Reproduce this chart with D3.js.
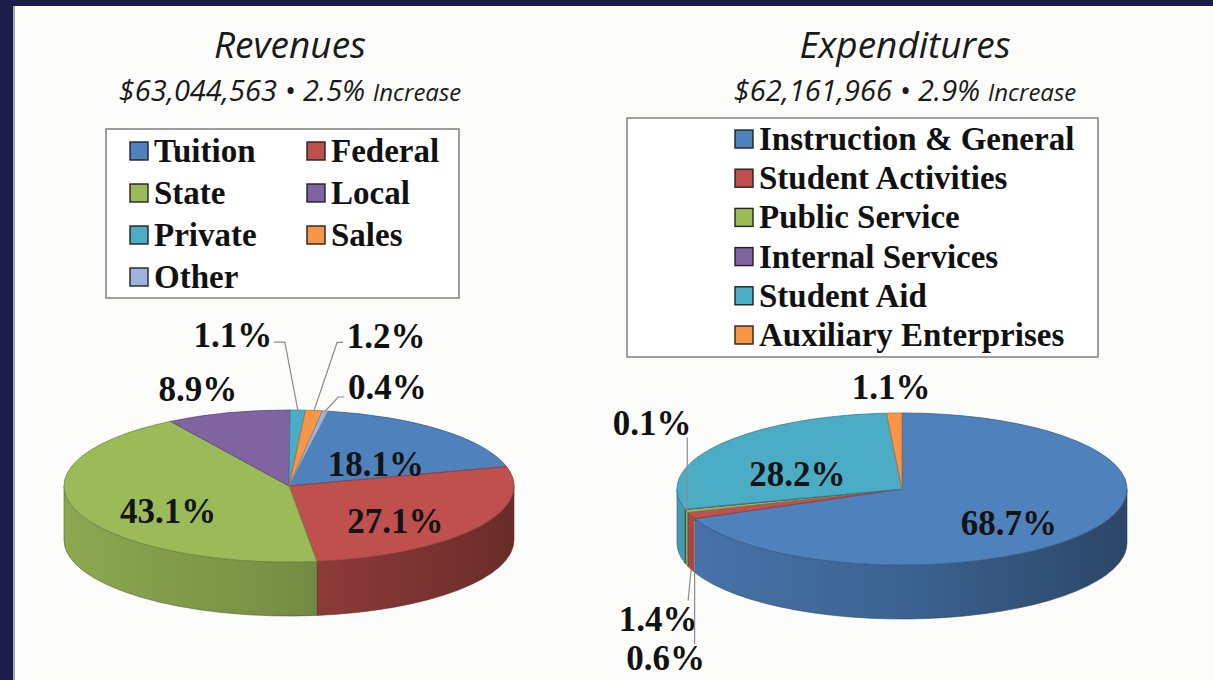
<!DOCTYPE html>
<html>
<head>
<meta charset="utf-8">
<script src="https://cdn.jsdelivr.net/npm/d3@7"></script>
<style>
  body { margin: 0; background: #fcfcfa; }
  svg { display: block; }
</style>
</head>
<body>
<div id="chart"></div>
<script>
// revenues
const revCategories = ['Tuition', 'Federal', 'State', 'Local', 'Private', 'Sales', 'Other']
const revValues = [18.1, 27.1, 43.1, 8.9, 1.1, 1.2, 0.4]
const revColors = ['#4f81bd', '#c0504d', '#9bbb59', '#8064a2', '#4bacc6', '#f79646', '#9db3dc']
const revTotal = '$63,044,563'
const revChange = '2.5%'

// expenditures
const expCategories = ['Instruction & General', 'Student Activities', 'Public Service',
  'Internal Services', 'Student Aid', 'Auxiliary Enterprises']
const expValues = [68.7, 1.4, 0.6, 0.1, 28.2, 1.1]
const expColors = ['#4f81bd', '#c0504d', '#9bbb59', '#8064a2', '#4bacc6', '#f79646']
const expTotal = '$62,161,966'
const expChange = '2.9%'

const width = 1213, height = 680
const serif = '"Times New Roman", "Liberation Serif", serif'
const sans = '"Open Sans", "Noto Sans", sans-serif'

let svg = d3.select('#chart')
  .append('svg')
  .attr('width', width)
  .attr('height', height)

let defs = svg.append('defs')

svg.append('rect').attr('width', width).attr('height', height).attr('fill', '#fcfcfa')
// dark frame top / left
svg.append('rect').attr('width', width).attr('height', 6).attr('fill', '#1c1d48')
svg.append('rect').attr('width', 13).attr('height', height).attr('fill', '#1c1d48')
svg.append('rect').attr('x', 13).attr('y', 6).attr('width', 2).attr('height', height).attr('fill', '#a3a5b8')

function header(cx, title, total, change) {
  svg.append('text')
    .attr('x', cx).attr('y', 58)
    .attr('text-anchor', 'middle')
    .style('font-family', sans).style('font-style', 'italic')
    .style('font-size', '37px').attr('fill', '#1a1a1a')
    .text(title)

  let t = svg.append('text')
    .attr('x', cx).attr('y', 101)
    .attr('text-anchor', 'middle')
    .style('font-family', sans).style('font-style', 'italic')
    .attr('fill', '#1a1a1a')
  t.append('tspan').style('font-size', '29px').text(total + ' \u2022 ' + change + ' ')
  t.append('tspan').style('font-size', '24px').text('Increase')
}

function legend(box, items, colors, cols, colW, rowH) {
  let g = svg.append('g')
  g.append('rect')
    .attr('x', box.x).attr('y', box.y)
    .attr('width', box.w).attr('height', box.h)
    .attr('fill', '#fff').attr('stroke', '#7f7f7f').attr('stroke-width', 1.5)

  let it = g.selectAll('.item')
    .data(items)
    .enter()
    .append('g')
    .attr('transform', (d, i) => `translate(${box.ix + (i % cols) * colW},${box.iy + Math.floor(i / cols) * rowH})`)

  it.append('rect')
    .attr('x', 0).attr('y', -9).attr('width', 18).attr('height', 18)
    .attr('fill', (d, i) => colors[i])
    .attr('stroke', '#222').attr('stroke-width', 1.4)

  it.append('text')
    .attr('x', 24).attr('y', 11)
    .style('font-family', serif).style('font-weight', 'bold').style('font-size', '33px')
    .attr('fill', '#111')
    .text(d => d)
}

function drawPie(o) {
  let data = o.categories.map((c, i) => ({ name: c, value: o.values[i], color: o.colors[i] }))
  let pie = d3.pie().sort(null).value(d => d.value)
    .startAngle(o.start).endAngle(o.start + 2 * Math.PI)
  let arcs = pie(data)

  let pt = (a, r = 1) => [o.cx + o.rx * r * Math.sin(a), o.cy - o.ry * r * Math.cos(a)]

  let g = svg.append('g')

  // side walls (front half only)
  let sides = []
  arcs.forEach((a, i) => {
    let grad = defs.append('linearGradient')
      .attr('id', `${o.id}-side-${i}`)
      .attr('gradientUnits', 'userSpaceOnUse')
      .attr('x1', o.cx - o.rx).attr('x2', o.cx + o.rx).attr('y1', 0).attr('y2', 0)
    let c = d3.color(a.data.color)
    grad.append('stop').attr('offset', 0).attr('stop-color', c.darker(0.3))
    grad.append('stop').attr('offset', 0.5).attr('stop-color', c.darker(0.75))
    grad.append('stop').attr('offset', 1).attr('stop-color', c.darker(1.7))
    ;[0, 2 * Math.PI].forEach(k => {
      let b1 = Math.max(a.startAngle, Math.PI / 2 + k)
      let b2 = Math.min(a.endAngle, 3 * Math.PI / 2 + k)
      if (b2 > b1) sides.push({ b1, b2, i, color: a.data.color })
    })
  })

  g.selectAll('.side')
    .data(sides)
    .enter()
    .append('path')
    .attr('class', 'side')
    .attr('d', s => {
      let p1 = pt(s.b1), p2 = pt(s.b2)
      return `M${p1} A${o.rx},${o.ry} 0 0 1 ${p2} L${p2[0]},${p2[1] + o.depth} ` +
        `A${o.rx},${o.ry} 0 0 0 ${p1[0]},${p1[1] + o.depth} Z`
    })
    .attr('fill', s => `url(#${o.id}-side-${s.i})`)
    .attr('stroke', s => d3.color(s.color).darker(1.8))
    .attr('stroke-width', 0.6)

  // top faces
  let arc = d3.arc().innerRadius(0).outerRadius(o.rx)
  g.append('g')
    .attr('transform', `translate(${o.cx},${o.cy}) scale(1,${o.ry / o.rx})`)
    .selectAll('path')
    .data(arcs)
    .enter()
    .append('path')
    .attr('d', arc)
    .attr('fill', d => d.data.color)
    .attr('stroke', d => d3.color(d.data.color).darker(0.9))
    .attr('stroke-width', 0.8)
    .attr('vector-effect', 'non-scaling-stroke')

  // labels
  arcs.forEach(a => {
    let mid = (a.startAngle + a.endAngle) / 2
    let txt = d3.format('.1f')(a.data.value) + '%'
    let spec = o.outside[a.data.name]
    let lx, ly
    if (!spec) {
      let p = pt(mid, 0.57)
      lx = p[0]; ly = p[1] + 10
    } else {
      let anchor = pt(mid)
      lx = anchor[0] + spec.dx; ly = anchor[1] + spec.dy
      if (spec.leader) {
        let ref = { a: anchor, l: [lx, ly] }
        let pts = spec.leader.map(q => [ref[q[0]][0] + q[1], ref[q[0]][1] + q[2]])
        g.append('path')
          .attr('d', d3.line()(pts))
          .attr('fill', 'none')
          .attr('stroke', '#8c8c8c')
          .attr('stroke-width', 1.2)
      }
    }
    g.append('text')
      .attr('x', lx).attr('y', ly)
      .attr('dy', '0.35em')
      .attr('text-anchor', 'middle')
      .style('font-family', serif).style('font-weight', 'bold').style('font-size', '35px')
      .attr('fill', spec ? '#111' : '#141414')
      .text(txt)
  })
}

header(290, 'Revenues', revTotal, revChange)
header(905, 'Expenditures', expTotal, expChange)

legend({ x: 106, y: 129, w: 353, h: 169, ix: 130, iy: 151 }, revCategories, revColors, 2, 177, 42)
legend({ x: 627, y: 118, w: 471, h: 239, ix: 735, iy: 139 }, expCategories, expColors, 1, 0, 39.2)

drawPie({
  id: 'rev', cx: 289, cy: 486, rx: 225, ry: 76, depth: 54,
  categories: revCategories, values: revValues, colors: revColors,
  start: 10 * Math.PI / 180,
  outside: {
    'Local': { dx: -30, dy: -24 },
    'Private': { dx: -65, dy: -75, leader: [['a', 0, 0], ['l', 52, 7], ['l', 41, 7]] },
    'Sales': { dx: 72, dy: -75, leader: [['a', 0, 0], ['l', -49, 7], ['l', -43, 7]] },
    'Other': { dx: 62, dy: -24, leader: [['a', 0, 0], ['l', -49, 10], ['l', -43, 10]] }
  }
})

drawPie({
  id: 'exp', cx: 902, cy: 489, rx: 225, ry: 76, depth: 54,
  categories: expCategories, values: expValues, colors: expColors,
  start: 0,
  outside: {
    'Auxiliary Enterprises': { dx: -3, dy: -26 },
    'Internal Services': { dx: -33, dy: -87, leader: [['a', 2, 0], ['l', 35, 15]] },
    'Student Activities': { dx: -33, dy: 103, leader: [['a', 0, 54], ['l', 30, -18]] },
    'Public Service': { dx: -21, dy: 147, leader: [['a', 8, 10], ['l', 29, -14]] }
  }
})
</script>
</body>
</html>
